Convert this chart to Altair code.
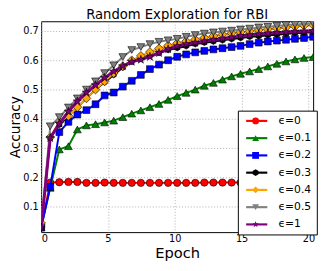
import altair as alt
import pandas as pd

epochs = [0.0, 0.68, 1.36, 2.04, 2.71, 3.39, 4.07, 4.75, 5.43, 6.11, 6.78,
          7.46, 8.14, 8.82, 9.5, 10.18, 10.85, 11.53, 12.21, 12.89, 13.57,
          14.25, 14.92, 15.6, 16.28, 16.96, 17.64, 18.32, 18.99, 19.67, 20.35]

labels = ["ϵ=0", "ϵ=0.1", "ϵ=0.2", "ϵ=0.3", "ϵ=0.4", "ϵ=0.5", "ϵ=1"]
keys = ["k0", "k1", "k2", "k3", "k4", "k5", "k6"]

eps0 = [0.03, 0.183, 0.184, 0.185, 0.185, 0.182, 0.182, 0.183, 0.182, 0.182, 0.182,
        0.182, 0.182, 0.182, 0.182, 0.182, 0.182, 0.182, 0.183, 0.183, 0.183,
        0.183, 0.183, 0.183, 0.183, 0.183, 0.183, 0.183, 0.183, 0.183, 0.183]
eps01 = [0.03, 0.165, 0.296, 0.307, 0.364, 0.378, 0.382, 0.388, 0.394, 0.406, 0.418,
         0.429, 0.44, 0.451, 0.465, 0.478, 0.489, 0.50, 0.513, 0.523, 0.534,
         0.545, 0.554, 0.562, 0.57, 0.579, 0.588, 0.596, 0.603, 0.608, 0.611]
eps02 = [0.03, 0.168, 0.355, 0.39, 0.415, 0.43, 0.45, 0.48, 0.49, 0.51, 0.53,
         0.55, 0.57, 0.585, 0.60, 0.612, 0.62, 0.627, 0.632, 0.637, 0.641,
         0.645, 0.649, 0.655, 0.66, 0.664, 0.667, 0.67, 0.673, 0.676, 0.68]
eps03 = [0.03, 0.335, 0.38, 0.41, 0.44, 0.47, 0.50, 0.525, 0.55, 0.575, 0.595,
         0.605, 0.615, 0.625, 0.635, 0.642, 0.648, 0.655, 0.66, 0.664, 0.668,
         0.672, 0.676, 0.68, 0.682, 0.685, 0.687, 0.69, 0.692, 0.694, 0.696]
eps04 = [0.045, 0.338, 0.39, 0.41, 0.44, 0.47, 0.50, 0.528, 0.556, 0.58, 0.60,
         0.615, 0.628, 0.64, 0.65, 0.658, 0.665, 0.671, 0.677, 0.683, 0.688,
         0.692, 0.696, 0.699, 0.703, 0.706, 0.709, 0.712, 0.715, 0.718, 0.72]
eps05 = [0.03, 0.375, 0.406, 0.439, 0.47, 0.50, 0.528, 0.556, 0.583, 0.611, 0.635,
         0.645, 0.655, 0.663, 0.668, 0.673, 0.68, 0.686, 0.691, 0.695, 0.698,
         0.701, 0.705, 0.708, 0.712, 0.714, 0.717, 0.72, 0.722, 0.724, 0.726]
eps1 = [0.03, 0.335, 0.385, 0.425, 0.46, 0.49, 0.515, 0.54, 0.562, 0.58, 0.595,
        0.602, 0.612, 0.625, 0.638, 0.648, 0.655, 0.66, 0.665, 0.67, 0.674,
        0.678, 0.683, 0.686, 0.689, 0.692, 0.694, 0.696, 0.698, 0.699, 0.70]

series_values = [eps0, eps01, eps02, eps03, eps04, eps05, eps1]

colors = ["#ff0000", "#008000", "#0000ff", "#000000", "#ffa500", "#808080", "#800080"]
HEX = "M0,-1L0.866,-0.5L0.866,0.5L0,1L-0.866,0.5L-0.866,-0.5Z"
STAR = ("M0,-1L0.2245,-0.309L0.951,-0.309L0.363,0.118L0.588,0.809L0,0.382"
        "L-0.588,0.809L-0.363,0.118L-0.951,-0.309L-0.2245,-0.309Z")
shapes = ["circle", "triangle-up", "square", HEX, "diamond", "triangle-down", STAR]
marker_sizes = [56, 64, 49, 36, 81, 64, 80]
line_widths = [2, 2, 2, 2, 2, 2, 3]

rows = []
for lab, key, vals in zip(labels, keys, series_values):
    for e, v in zip(epochs, vals):
        rows.append({"epoch": e, "acc": v, "series": lab, "key": key})
df = pd.DataFrame(rows)

x_enc = alt.X("epoch:Q",
              scale=alt.Scale(domain=[0, 20.35], nice=False, zero=False),
              axis=alt.Axis(values=[0, 5, 10, 15, 20], title="Epoch",
                            labelPadding=2, titlePadding=2))
y_enc = alt.Y("acc:Q",
              scale=alt.Scale(domain=[0.014, 0.733], nice=False, zero=False),
              axis=alt.Axis(values=[0.1, 0.2, 0.3, 0.4, 0.5, 0.6, 0.7], format=".1f",
                            title="Accuracy", labelPadding=3, titlePadding=0,
                            titleFontSize=14))

LX, LY = 201.8, 91.7
legA = alt.Legend(orient="none", legendX=LX, legendY=LY, title=None,
                  direction="vertical", symbolType="M-1,0L9.85,0", symbolSize=16,
                  symbolStrokeWidth=2.2, labelFont="DejaVu Sans", labelFontSize=11,
                  labelColor="black", labelOffset=25.7, padding=5, rowPadding=5.7,
                  strokeColor="black", fillColor="white", cornerRadius=0,
                  zindex=1, symbolLimit=0)
legB = alt.Legend(orient="none", legendX=LX, legendY=LY, title=None,
                  direction="vertical", symbolSize=49, symbolStrokeColor="black",
                  symbolStrokeWidth=0.6, symbolOpacity=1, labelFont="DejaVu Sans",
                  labelFontSize=11, labelOpacity=0, padding=5, rowPadding=5.7,
                  symbolOffset=7.7, zindex=2, symbolLimit=0)

stroke_enc = alt.Stroke("series:N", scale=alt.Scale(domain=labels, range=colors), legend=legA)
fill_enc = alt.Fill("key:N", scale=alt.Scale(domain=keys, range=colors), legend=legB)
shape_enc = alt.Shape("key:N", scale=alt.Scale(domain=keys, range=shapes), legend=legB)

layers = []
for lab, lw, ms in zip(labels, line_widths, marker_sizes):
    layers.append(
        alt.Chart().mark_line(strokeWidth=lw, clip=True)
        .encode(x=x_enc, y=y_enc, stroke=stroke_enc)
        .transform_filter(alt.datum.series == lab)
    )
    layers.append(
        alt.Chart().mark_point(filled=True, size=ms, stroke="black", strokeWidth=0.6,
                               opacity=1, clip=True)
        .encode(x=x_enc, y=y_enc, fill=fill_enc, shape=shape_enc)
        .transform_filter(alt.datum.series == lab)
    )

chart = (
    alt.layer(*layers, data=df)
    .properties(
        width=279, height=216.3,
        title=alt.TitleParams("Random Exploration for RBI", fontSize=13.5,
                              font="DejaVu Sans", fontWeight="normal", offset=0.3,
                              color="black"),
        autosize=alt.AutoSizeParams(type="none"),
        padding={"left": 34, "top": 10.3, "right": 5, "bottom": 30},
    )
    .configure_view(stroke="black", strokeWidth=1)
    .configure_axis(labelFont="DejaVu Sans", labelFontSize=10, labelColor="black",
                    titleFont="DejaVu Sans", titleFontSize=15, titleFontWeight="normal",
                    titleColor="black", domain=False, ticks=False,
                    gridColor="#9a9a9a", gridDash=[1, 2], gridWidth=0.8, gridOpacity=1)
)

chart.save("out.html", embed_options={"renderer": "svg", "actions": False})
